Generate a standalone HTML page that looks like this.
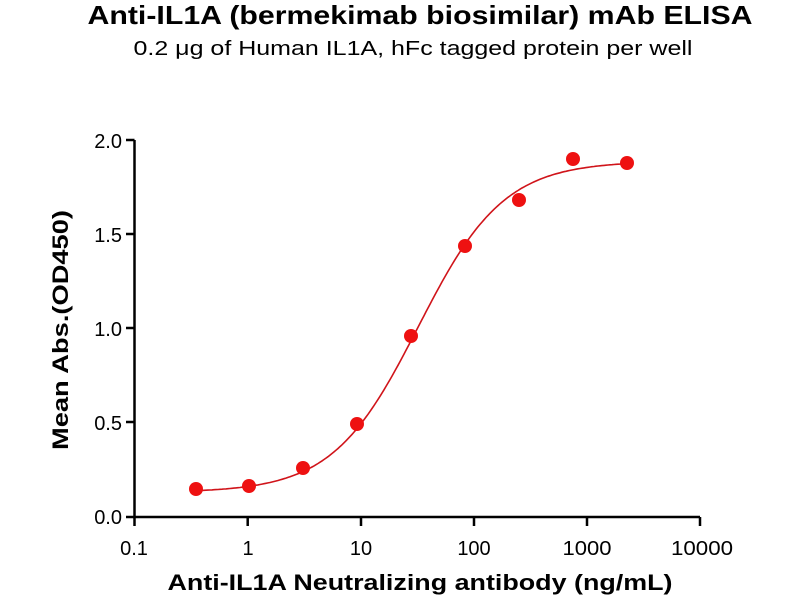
<!DOCTYPE html>
<html><head><style>
body{margin:0;background:#fff;width:800px;height:600px;overflow:hidden}
svg text{font-family:"Liberation Sans",Arial,sans-serif}
</style></head><body>
<svg id="s" width="800" height="600" xmlns="http://www.w3.org/2000/svg">
<text x="420" y="24" text-anchor="middle" font-size="26" font-weight="bold" textLength="665" lengthAdjust="spacingAndGlyphs">Anti-IL1A (bermekimab biosimilar) mAb ELISA</text>
<text x="413" y="55" text-anchor="middle" font-size="20" textLength="559" lengthAdjust="spacingAndGlyphs">0.2 μg of Human IL1A, hFc tagged protein per well</text>
<g stroke="#000" stroke-width="2.5" fill="none">
<path d="M134.5 140 V517 H700"/>
<path d="M126 140H134.5 M126 234H134.5 M126 328H134.5 M126 422H134.5 M126 517H134.5"/>
<path d="M134.5 517V526 M247.7 517V526 M361 517V526 M474 517V526 M587 517V526 M700 517V526"/>
</g>
<g font-size="20" text-anchor="end">
<text x="122" y="148">2.0</text><text x="122" y="242">1.5</text><text x="122" y="336">1.0</text><text x="122" y="430">0.5</text><text x="122" y="524">0.0</text>
</g>
<g font-size="20" text-anchor="middle">
<text x="134" y="555">0.1</text><text x="248" y="555">1</text><text x="361" y="555">10</text><text x="474" y="555">100</text><text x="587" y="555" textLength="49" lengthAdjust="spacingAndGlyphs">1000</text><text x="702" y="555" textLength="62" lengthAdjust="spacingAndGlyphs">10000</text>
</g>
<text x="420" y="590" text-anchor="middle" font-size="22" font-weight="bold" textLength="505" lengthAdjust="spacingAndGlyphs">Anti-IL1A Neutralizing antibody (ng/mL)</text>
<text transform="translate(68,330) rotate(-90)" text-anchor="middle" font-size="22" font-weight="bold" textLength="240" lengthAdjust="spacingAndGlyphs">Mean Abs.(OD450)</text>
<path id="c" fill="none" stroke="#d0141a" stroke-width="1.6"/>
<g fill="#ee1111">
<circle cx="196" cy="489" r="7"/><circle cx="249" cy="486" r="7"/><circle cx="303" cy="468" r="7"/><circle cx="357" cy="424" r="7"/><circle cx="411" cy="336" r="7"/><circle cx="465" cy="246" r="7"/><circle cx="519" cy="200" r="7"/><circle cx="573" cy="159" r="7"/><circle cx="627" cy="163" r="7"/>
</g>
</svg>
<script>
var d="";for(var px=196;px<=627;px+=2){var lx=(px-247.7)/113.3;var x=Math.pow(10,lx);var y=0.13+1.76/(1+Math.pow(32/x,1.15));var py=517-y*188.3;d+=(d?"L":"M")+px+" "+py.toFixed(1);}
document.getElementById("c").setAttribute("d",d);
</script>
</body></html>
